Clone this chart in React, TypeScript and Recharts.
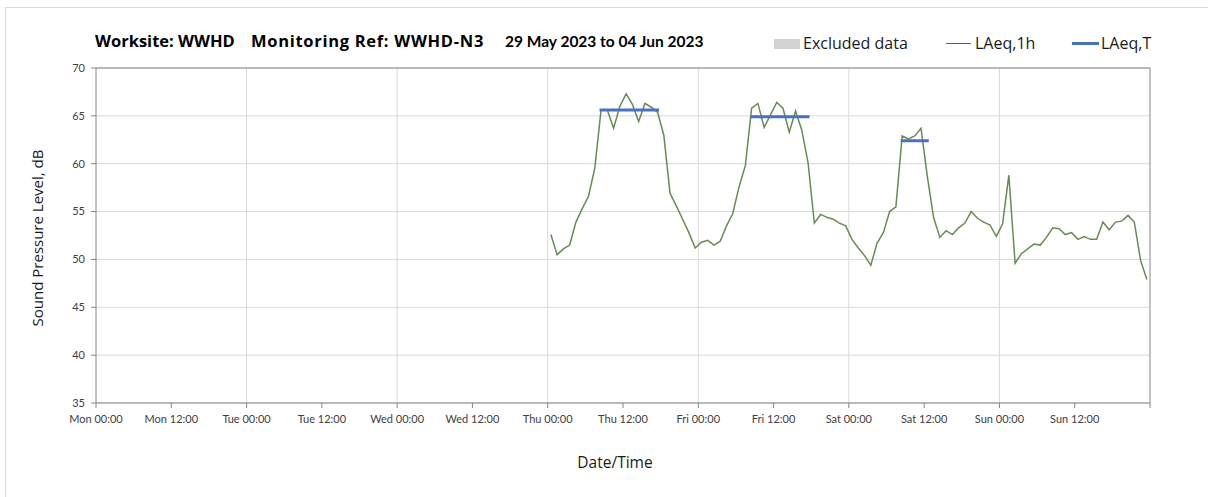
import React from 'react';
import { LineChart, Line, XAxis, YAxis, CartesianGrid, ReferenceLine } from 'recharts';

// Hourly LAeq,1h values starting Thu 00:30 (hours from Mon 00:00)
const START_HOUR = 72.5;
const laeq1h: number[] = [
  52.6, 50.5, 51.1, 51.5, 53.9, 55.3, 56.6, 59.5, 65.6, 65.6,
  63.7, 66.0, 67.3, 66.2, 64.4, 66.3, 65.9, 65.4, 63.0, 56.9,
  55.6, 54.2, 52.8, 51.2, 51.8, 52.0, 51.5, 51.9, 53.5, 54.8,
  57.6, 59.8, 65.8, 66.3, 63.8, 65.1, 66.4, 65.8, 63.3, 65.5,
  63.5, 60.1, 53.8, 54.7, 54.4, 54.2, 53.8, 53.5, 52.1, 51.2,
  50.4, 49.4, 51.7, 52.8, 55.0, 55.5, 62.9, 62.6, 62.9, 63.7,
  58.7, 54.4, 52.3, 53.0, 52.6, 53.3, 53.8, 55.0, 54.3, 53.9,
  53.6, 52.4, 53.7, 58.8, 49.6, 50.6, 51.1, 51.6, 51.5, 52.3,
  53.3, 53.2, 52.6, 52.8, 52.1, 52.4, 52.1, 52.1, 53.9, 53.1,
  53.9, 54.0, 54.6, 53.9, 49.9, 47.9,
];

// LAeq,T periods
const laeqTStart: number[] = [80.5, 104.5, 128.5];
const laeqTEnd: number[] = [89.5, 113.5, 132.5];
const laeqTValue: number[] = [65.6, 64.9, 62.4];

const xTicks: number[] = [0, 12, 24, 36, 48, 60, 72, 84, 96, 108, 120, 132, 144, 156, 168];
const xTickLabels: string[] = [
  'Mon 00:00', 'Mon 12:00', 'Tue 00:00', 'Tue 12:00', 'Wed 00:00', 'Wed 12:00',
  'Thu 00:00', 'Thu 12:00', 'Fri 00:00', 'Fri 12:00', 'Sat 00:00', 'Sat 12:00',
  'Sun 00:00', 'Sun 12:00', '',
];
const dayLines: number[] = [24, 48, 72, 96, 120, 144];
const yTicks: number[] = [35, 40, 45, 50, 55, 60, 65, 70];

const lineData = laeq1h.map((v, i) => ({ t: START_HOUR + i, v }));
const tSegments = laeqTValue.map((v, i) => [
  { t: laeqTStart[i], v },
  { t: laeqTEnd[i], v },
]);

const FONT = 'Lato, "Open Sans", sans-serif';
const WIDE = '"Open Sans", Lato, sans-serif';
const AXIS = '#868686';
const GRID = '#D9D9D9';
const GREEN = '#6A8A55';
const BLUE = '#4472C4';

export default function App() {
  return (
    <div style={{ position: 'absolute', left: 0, top: 0, width: 1208, height: 497, background: '#fff', fontFamily: FONT, overflow: 'hidden' }}>
      <div style={{ position: 'absolute', left: 5, top: 7, width: 1260, height: 520, borderLeft: '1px solid #D9D9D9', borderTop: '1px solid #D9D9D9' }} />
      <LineChart
        width={1208}
        height={497}
        margin={{ top: 68, right: 58, left: 0, bottom: 0 }}
        style={{ position: 'absolute', left: 0, top: 0 }}
      >
        <CartesianGrid vertical={false} stroke={GRID} strokeWidth={1} />
        {dayLines.map((d) => (
          <ReferenceLine key={d} x={d} stroke={GRID} strokeWidth={1} />
        ))}
        <ReferenceLine y={70} stroke={AXIS} strokeWidth={1} />
        <ReferenceLine x={168} stroke={AXIS} strokeWidth={1} />
        <XAxis
          dataKey="t"
          type="number"
          domain={[0, 168]}
          ticks={xTicks}
          interval={0}
          allowDataOverflow
          height={94}
          stroke={AXIS}
          tickSize={5}
          tickMargin={7}
          tick={{ fill: '#404040', fontSize: 11, fontFamily: FONT }}
          tickFormatter={(v: number) => xTickLabels[xTicks.indexOf(v)] ?? ''}
        />
        <YAxis
          type="number"
          domain={[35, 70]}
          ticks={yTicks}
          interval={0}
          width={96}
          stroke={AXIS}
          tickSize={5}
          tickMargin={6}
          tick={{ fill: '#404040', fontSize: 11, fontFamily: FONT }}
        />
        <Line
          data={lineData}
          dataKey="v"
          type="linear"
          stroke={GREEN}
          strokeWidth={1.5}
          dot={false}
          activeDot={false}
          isAnimationActive={false}
        />
        {tSegments.map((seg, i) => (
          <Line
            key={i}
            data={seg}
            dataKey="v"
            type="linear"
            stroke={BLUE}
            strokeWidth={3}
            strokeLinecap="square"
            dot={false}
            activeDot={false}
            isAnimationActive={false}
          />
        ))}
      </LineChart>

      {/* Title */}
      <div style={{ position: 'absolute', top: 29, left: 95, fontSize: 16.5, fontWeight: 700, fontFamily: WIDE, color: '#000', whiteSpace: 'nowrap' }}>Worksite: WWHD</div>
      <div style={{ position: 'absolute', top: 29, left: 251, fontSize: 16.5, letterSpacing: 0.7, fontWeight: 700, fontFamily: WIDE, color: '#000', whiteSpace: 'nowrap' }}>Monitoring Ref: WWHD-N3</div>
      <div style={{ position: 'absolute', top: 32, left: 505, fontSize: 15.5, fontWeight: 700, color: '#000', whiteSpace: 'nowrap' }}>29 May 2023 to 04 Jun 2023</div>

      {/* Legend */}
      <div style={{ position: 'absolute', top: 39, left: 774, width: 26, height: 10, background: '#D3D3D3' }} />
      <div style={{ position: 'absolute', top: 32, left: 803, fontSize: 16, fontFamily: WIDE, color: '#1a1a1a', whiteSpace: 'nowrap' }}>Excluded data</div>
      <div style={{ position: 'absolute', top: 43, left: 946, width: 25, height: 1, background: '#4F6B3A' }} />
      <div style={{ position: 'absolute', top: 32, left: 975, fontSize: 16, fontFamily: WIDE, color: '#1a1a1a', whiteSpace: 'nowrap' }}>LAeq,1h</div>
      <div style={{ position: 'absolute', top: 42, left: 1072, width: 27, height: 3, background: BLUE }} />
      <div style={{ position: 'absolute', top: 32, left: 1101, fontSize: 16, fontFamily: WIDE, color: '#1a1a1a', whiteSpace: 'nowrap' }}>LAeq,T</div>

      {/* Axis titles */}
      <div style={{ position: 'absolute', left: 37, top: 238, transform: 'translate(-50%, -50%) rotate(-90deg)', fontSize: 15, fontFamily: WIDE, color: '#1a1a1a', whiteSpace: 'nowrap' }}>Sound Pressure Level, dB</div>
      <div style={{ position: 'absolute', left: 615, top: 462, transform: 'translate(-50%, -50%)', fontSize: 15.5, fontFamily: WIDE, color: '#1a1a1a', whiteSpace: 'nowrap' }}>Date/Time</div>
    </div>
  );
}
